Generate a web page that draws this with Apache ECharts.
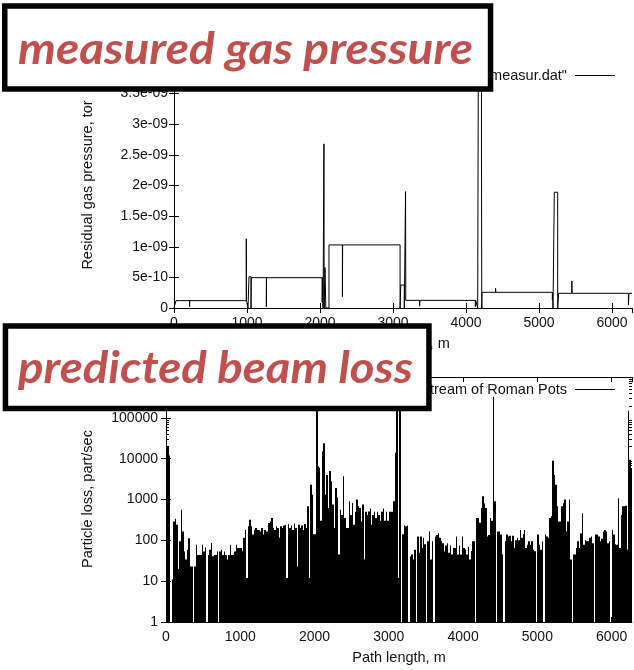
<!DOCTYPE html>
<html>
<head>
<meta charset="utf-8">
<script src="https://cdn.jsdelivr.net/npm/echarts@6/dist/echarts.min.js"></script>
<style>
  html, body { margin: 0; padding: 0; background: #fff; }
  #chart { width: 634px; height: 670px; }
</style>
</head>
<body>
<div id="chart"></div>
<script>
// ---------- measured residual gas pressure (path length m, pressure torr) ----------
const pressPos = [0, 27, 27, 213, 213, 216, 216, 990, 990, 993, 993, 1014, 1014, 1027, 1027, 1055, 1055, 1059, 1059,
  1265, 1265, 1268, 1268, 2030, 2030, 2033, 2033, 2042, 2042, 2054, 2054, 2057, 2057, 2068, 2068, 2080, 2080,
  2123, 2123, 2307, 2307, 2310, 2310, 3097, 3097, 3107, 3107, 3155, 3155, 3172, 3172, 3175, 3175,
  3365, 3365, 3368, 3368, 4128, 4128, 4133, 4133, 4160, 4160, 4170, 4170, 4212, 4212, 4216, 4216,
  4219, 4219, 4405, 4405, 4408, 4408, 5183, 5183, 5186, 5186, 5192, 5192, 5210, 5210, 5256, 5256,
  5269, 5269, 5450, 5450, 5453, 5453, 6225, 6225, 6232, 6232, 6274];
const pressVal = [0, 0, 1.2e-10, 1.2e-10, 2e-11, 2e-11, 1.2e-10, 1.2e-10, 1.13e-9, 1.13e-9, 1.2e-10, 1.2e-10, 0, 0, 5.1e-10, 5.1e-10, 0, 0, 4.95e-10,
  4.95e-10, 2e-11, 2e-11, 4.95e-10, 4.95e-10, 9e-11, 9e-11, 4.95e-10, 4.95e-10, 0, 0, 2.68e-9, 2.68e-9, 0, 0, 6.6e-10, 6.6e-10, 0,
  0, 1.03e-9, 1.03e-9, 1.85e-10, 1.85e-10, 1.03e-9, 1.03e-9, 0, 0, 3.75e-10, 3.75e-10, 0, 0, 1.9e-9, 1.9e-9, 1.25e-10,
  1.25e-10, 3e-11, 3e-11, 1.25e-10, 1.25e-10, 2e-11, 2e-11, 1.25e-10, 1.25e-10, 0, 0, 4.5e-9, 4.5e-9, 2.5e-9, 2.5e-9, 0,
  0, 2.56e-10, 2.56e-10, 3.2e-10, 3.2e-10, 2.56e-10, 2.56e-10, 1.3e-10, 1.3e-10, 2.56e-10, 2.56e-10, 0, 0, 1.89e-9, 1.89e-9, 0,
  0, 2.4e-10, 2.4e-10, 4.4e-10, 4.4e-10, 2.4e-10, 2.4e-10, 5e-11, 5e-11, 2.4e-10, 2.4e-10];

// ---------- predicted particle loss, 20 m bins (part/sec) ----------
const lossBin = 20;
const loss0000 = [20000, 20000, 12000, 1, 11, 290, 340, 240, 20, 95, 560, 165, 53, 34, 59, 112, 23, 23, 1, 23,
  78, 44, 44, 44, 78, 53, 67, 1, 44, 59, 86, 41, 44, 44, 53, 1, 53, 59, 44, 53,
  44, 34, 44, 78, 44, 44, 53, 78, 65, 65];
const loss1000 = [65, 54, 115, 180, 12, 220, 320, 220, 138, 180, 200, 180, 180, 165, 200, 138, 180, 165, 165, 265,
  290, 350, 200, 180, 220, 200, 115, 220, 200, 230, 240, 12, 250, 200, 230, 180, 260, 200, 23, 240,
  200, 230, 180, 250, 200, 680, 12, 2300, 1300, 140];
const loss2000 = [140, 2000000, 6500, 6000, 300, 15000, 24000, 1300, 4000, 620, 5000, 2800, 750, 200, 1900, 1100, 45, 560, 420, 3700,
  350, 200, 200, 900, 420, 820, 240, 500, 1000, 680, 620, 290, 750, 34, 500, 420, 510, 600, 240, 420,
  500, 350, 500, 420, 300, 500, 600, 300, 500, 300];
const loss3000 = [500, 500, 500, 900, 14000, 2000000, 12, 2000000, 1, 140, 235, 220, 230, 1, 40, 45, 34, 59, 1, 125,
  50, 125, 65, 115, 80, 1, 95, 165, 34, 95, 1, 125, 135, 150, 115, 95, 85, 53, 75, 85,
  50, 75, 45, 65, 65, 125, 45, 75, 45, 125];
const loss4000 = [65, 60, 45, 70, 34, 55, 95, 95, 1, 350, 350, 270, 620, 1200, 800, 620, 125, 135, 350, 300,
  330000, 900, 1, 165, 165, 138, 45, 1, 95, 138, 125, 130, 95, 130, 65, 100, 115, 100, 180, 115,
  140, 180, 65, 78, 95, 78, 95, 59, 54, 1];
const loss5000 = [138, 78, 59, 95, 1, 138, 125, 115, 350, 390, 8900, 4000, 2300, 680, 290, 290, 680, 810, 1000, 165,
  290, 1000, 34, 1, 45, 45, 65, 95, 65, 150, 460, 78, 100, 95, 95, 115, 125, 85, 1, 138,
  138, 125, 95, 110, 165, 180, 165, 85, 95, 1];
const loss6000 = [180, 138, 80, 78, 1080, 65, 420, 680, 680, 700, 60, 150000, 9400, 5900];

// ---------- axis settings ----------
const pathMax = 6274;
const pathTicks = 1000;
const pressMax = 4e-9;
const pressStep = 5e-10;
const lossMin = 1;
const lossMax = 1e6;

const pressName = '"gas_measur.dat"';
const lossName = 'Losses downstream of Roman Pots';

const pressData = pressPos.map((x, i) => [x, pressVal[i]]);
const lossData = [];
[loss0000, loss1000, loss2000, loss3000, loss4000, loss5000, loss6000].forEach((seg, k) => {
  seg.forEach((v, i) => lossData.push([k * 1000 + i * lossBin, v]));
});

// gnuplot-style log minor ticks (2..9 per decade)
const minorTicks = [];
for (let d = 1; d < lossMax; d *= 10) {
  for (let m = 2; m <= 9; m++) minorTicks.push([0, m * d]);
}

const FONT = '"Liberation Sans", Arial, sans-serif';
const INK = '#111';

function gnuExp(v) {
  if (Math.abs(v) < 1e-15) return '0';
  const e = Math.floor(Math.log10(v) + 1e-9);
  const m = Math.round(v / Math.pow(10, e) * 100) / 100;
  return m + 'e' + (e < 0 ? '-' : '+') + String(Math.abs(e)).padStart(2, '0');
}

function fitScale(text, font, target) {
  const ctx = document.createElement('canvas').getContext('2d');
  ctx.font = font;
  return target / ctx.measureText(text).width;
}

const lineAxis = { show: true, lineStyle: { color: '#000', width: 1 } };
const tickIn = { show: true, inside: true, length: 5, lineStyle: { color: '#000', width: 1 } };
const tickLabel = { color: INK, fontSize: 14, fontFamily: FONT };

function xAxes(grid, max) {
  return [
    { gridIndex: grid, type: 'value', position: 'bottom', min: 0, max: max, interval: pathTicks,
      axisLine: lineAxis, axisTick: tickIn, splitLine: { show: false },
      axisLabel: Object.assign({ margin: 8, showMaxLabel: false, formatter: v => String(v) }, tickLabel) },
    { gridIndex: grid, type: 'value', position: 'top', min: 0, max: max, interval: pathTicks,
      axisLine: lineAxis, axisTick: tickIn, splitLine: { show: false }, axisLabel: { show: false } }
  ];
}

// loss histogram: one filled box per bin, edges snapped to whole pixels
function renderBin(params, api) {
  const x = api.value(0);
  const v = api.value(1);
  if (v <= lossMin) return null;
  const cs = params.coordSys;
  const p0 = api.coord([x, lossMin]);
  const p1 = api.coord([x + lossBin, Math.min(v, lossMax)]);
  const x0 = Math.round(p0[0]);
  const x1 = Math.min(Math.round(p1[0]), cs.x + cs.width);
  if (x1 <= x0) return null;
  const top = Math.max(p1[1], cs.y);
  return { type: 'rect', shape: { x: x0, y: top, width: x1 - x0, height: p0[1] - top },
    style: { fill: '#000' } };
}

const redFont = 'italic bold 43px Lato';
const topLabel = 'measured gas pressure';
const botLabel = 'predicted beam loss';

const chart = echarts.init(document.getElementById('chart'), null, { renderer: 'canvas' });

chart.setOption({
  animation: false,
  backgroundColor: '#fff',
  grid: [
    { left: 174, right: 2, top: 63, bottom: 362, containLabel: false },
    { left: 166, right: 2, top: 377, bottom: 48, containLabel: false }
  ],
  xAxis: [].concat(xAxes(0, pathMax), xAxes(1, pathMax)),
  yAxis: [
    { gridIndex: 0, type: 'value', position: 'left', min: 0, max: pressMax, interval: pressStep,
      axisLine: lineAxis, axisTick: tickIn, splitLine: { show: false },
      axisLabel: Object.assign({ margin: 6, formatter: gnuExp }, tickLabel) },
    { gridIndex: 0, type: 'value', position: 'right', min: 0, max: pressMax, interval: pressStep,
      axisLine: lineAxis, axisTick: tickIn, splitLine: { show: false }, axisLabel: { show: false } },
    { gridIndex: 1, type: 'log', logBase: 10, position: 'left', min: lossMin, max: lossMax,
      axisLine: lineAxis, axisTick: tickIn, splitLine: { show: false },
      axisLabel: Object.assign({ margin: 8, formatter: v => (v >= 1e6 ? '1e+06' : String(Math.round(v))) }, tickLabel) },
    { gridIndex: 1, type: 'log', logBase: 10, position: 'right', min: lossMin, max: lossMax,
      axisLine: lineAxis, axisTick: tickIn, splitLine: { show: false }, axisLabel: { show: false } }
  ],
  legend: [
    { data: [pressName], right: 19, top: 68, align: 'right', icon: 'rect', itemWidth: 40, itemHeight: 1,
      selectedMode: false, padding: 0, textStyle: { color: INK, fontSize: 14.5, fontFamily: FONT, padding: [0, 3, 0, 0] } },
    { data: [lossName], right: 19, top: 382, align: 'right', icon: 'rect', itemWidth: 40, itemHeight: 1,
      selectedMode: false, padding: 0, textStyle: { color: INK, fontSize: 14.5, fontFamily: FONT, padding: [0, 3, 0, 0] } }
  ],
  series: [
    { name: pressName, type: 'line', xAxisIndex: 0, yAxisIndex: 0, data: pressData,
      showSymbol: false, symbol: 'none', clip: true,
      lineStyle: { color: '#000', width: 1 }, itemStyle: { color: '#000' } },
    { name: lossName, type: 'custom', xAxisIndex: 2, yAxisIndex: 2, data: lossData,
      encode: { x: 0, y: 1 }, clip: true, renderItem: renderBin, itemStyle: { color: '#000' } },
    { type: 'custom', xAxisIndex: 2, yAxisIndex: 2, data: minorTicks, silent: true, clip: false,
      encode: { x: 0, y: 1 },
      renderItem: function (params, api) {
        const v = api.value(1);
        const l = api.coord([0, v]);
        const r = api.coord([pathMax, v]);
        const y = Math.round(l[1]) + 0.5;
        return { type: 'group', children: [
          { type: 'line', shape: { x1: l[0], y1: y, x2: l[0] + 3, y2: y }, style: { stroke: '#000', lineWidth: 1 } },
          { type: 'line', shape: { x1: r[0] - 3, y1: y, x2: r[0], y2: y }, style: { stroke: '#000', lineWidth: 1 } }
        ] };
      } }
  ],
  graphic: [
    // axis titles
    { type: 'text', z: 50, x: 88, y: 185, rotation: Math.PI / 2,
      style: { text: 'Residual gas pressure, tor', font: '14.5px ' + FONT, fill: INK, align: 'center', verticalAlign: 'middle' } },
    { type: 'text', z: 50, x: 403, y: 344,
      style: { text: 'Path length, m', font: '14.5px ' + FONT, fill: INK, align: 'center', verticalAlign: 'middle' } },
    { type: 'text', z: 50, x: 88, y: 499, rotation: Math.PI / 2,
      style: { text: 'Particle loss, part/sec', font: '14.5px ' + FONT, fill: INK, align: 'center', verticalAlign: 'middle' } },
    { type: 'text', z: 50, x: 399, y: 658,
      style: { text: 'Path length, m', font: '14.5px ' + FONT, fill: INK, align: 'center', verticalAlign: 'middle' } },
    // caption panels
    { type: 'rect', z: 100, shape: { x: 4.75, y: 6.05, width: 485.8, height: 82.9 },
      style: { fill: '#fff', stroke: '#000', lineWidth: 5.5 } },
    { type: 'text', z: 101, x: 18, y: 50, scaleX: fitScale(topLabel, redFont, 455),
      style: { text: topLabel, font: redFont, fill: '#C0504D', align: 'left', verticalAlign: 'middle' } },
    { type: 'rect', z: 100, shape: { x: 5.45, y: 326.05, width: 423.5, height: 82.5 },
      style: { fill: '#fff', stroke: '#000', lineWidth: 5.5 } },
    { type: 'text', z: 101, x: 18, y: 369, scaleX: fitScale(botLabel, redFont, 395),
      style: { text: botLabel, font: redFont, fill: '#C0504D', align: 'left', verticalAlign: 'middle' } }
  ]
});
</script>
</body>
</html>
